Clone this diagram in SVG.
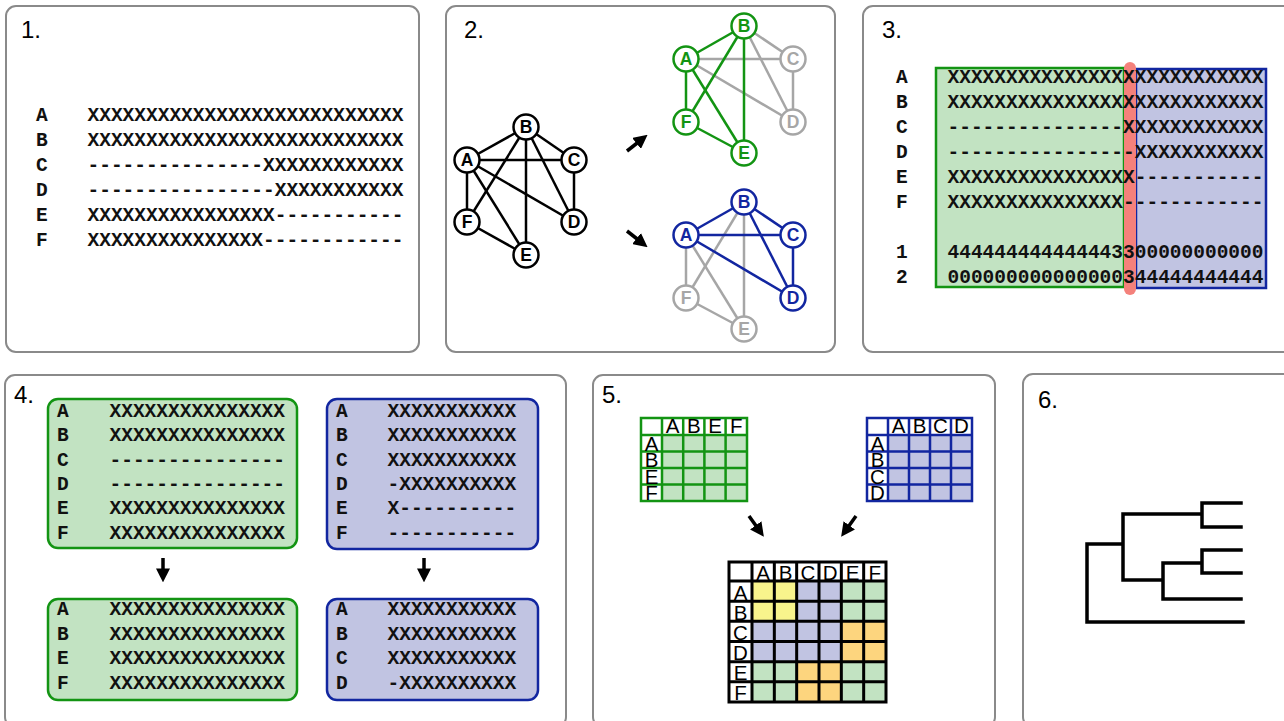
<svg xmlns="http://www.w3.org/2000/svg" width="1284" height="721" viewBox="0 0 1284 721">
<style>
.panel{fill:#fff;stroke:#8a8a8a;stroke-width:2}
.title{font-family:"Liberation Sans",Arial,sans-serif;font-size:24px;fill:#000}
.mono{font-family:"Liberation Mono","Courier New",monospace;font-weight:bold;font-size:19.5px;fill:#111;white-space:pre}
.node circle{fill:#fff;stroke-width:2.5}
.node text{font-family:"Liberation Sans",Arial,sans-serif;font-size:17.5px;font-weight:bold;text-anchor:middle}
.k circle{stroke:#000}.k text{fill:#000}
.g circle{stroke:#139413}.g text{fill:#139413}
.b circle{stroke:#1226a0}.b text{fill:#1226a0}
.y circle{stroke:#a6a6a6}.y text{fill:#a6a6a6}
.ek{stroke:#000;stroke-width:2.5;fill:none}
.eg{stroke:#139413;stroke-width:2.5;fill:none}
.eb{stroke:#1226a0;stroke-width:2.5;fill:none}
.ey{stroke:#a6a6a6;stroke-width:2.5;fill:none}
.arrow{stroke:#000;stroke-width:3.5;fill:none;marker-end:url(#ah)}
.gfill{fill:#c2e3c2}.bfill{fill:#c1c4e2}.yfill{fill:#f8f48c}.ofill{fill:#fdd57e}
.gbox{fill:#c2e3c2;stroke:#139413;stroke-width:2.5}
.bbox{fill:#c1c4e2;stroke:#1226a0;stroke-width:2.5}
.mx{font-family:"Liberation Sans",Arial,sans-serif;font-size:20.5px;fill:#000;text-anchor:middle}
.tree{stroke:#000;stroke-width:3.5;fill:none;stroke-linecap:square}
</style>
<defs>
<marker id="ah" viewBox="0 0 10 10" refX="4" refY="5" markerWidth="4" markerHeight="4" orient="auto">
<path d="M0,0 L10,5 L0,10 z" fill="#000"/>
</marker>
</defs>

<!-- Panel 1 -->
<g id="panel1">
<rect class="panel" x="6" y="6" width="413" height="346" rx="10"/>
<text class="title" x="21" y="38">1.</text>
<text class="mono" x="36" y="121">A</text><text class="mono" x="87.5" y="121">XXXXXXXXXXXXXXXXXXXXXXXXXXX</text>
<text class="mono" x="36" y="146">B</text><text class="mono" x="87.5" y="146">XXXXXXXXXXXXXXXXXXXXXXXXXXX</text>
<text class="mono" x="36" y="171">C</text><text class="mono" x="87.5" y="171">---------------XXXXXXXXXXXX</text>
<text class="mono" x="36" y="196">D</text><text class="mono" x="87.5" y="196">----------------XXXXXXXXXXX</text>
<text class="mono" x="36" y="221">E</text><text class="mono" x="87.5" y="221">XXXXXXXXXXXXXXXX-----------</text>
<text class="mono" x="36" y="246">F</text><text class="mono" x="87.5" y="246">XXXXXXXXXXXXXXX------------</text>
</g>

<!-- Panel 2 -->
<g id="panel2">
<rect class="panel" x="446" y="6" width="389" height="346" rx="10"/>
<text class="title" x="464" y="38">2.</text>
<g id="connectors">
<g id="edges-black">
<line class="ek" x1="467" y1="160" x2="526" y2="127"/>
<line class="ek" x1="467" y1="160" x2="574" y2="160"/>
<line class="ek" x1="467" y1="160" x2="467" y2="222"/>
<line class="ek" x1="467" y1="160" x2="526" y2="255"/>
<line class="ek" x1="467" y1="160" x2="574" y2="222"/>
<line class="ek" x1="526" y1="127" x2="574" y2="160"/>
<line class="ek" x1="526" y1="127" x2="467" y2="222"/>
<line class="ek" x1="526" y1="127" x2="526" y2="255"/>
<line class="ek" x1="526" y1="127" x2="574" y2="222"/>
<line class="ek" x1="574" y1="160" x2="574" y2="222"/>
<line class="ek" x1="467" y1="222" x2="526" y2="255"/>
</g>
<g id="edges-green">
<line class="ey" x1="686" y1="59" x2="793" y2="59"/>
<line class="ey" x1="686" y1="59" x2="793" y2="122"/>
<line class="ey" x1="744" y1="26" x2="793" y2="59"/>
<line class="ey" x1="744" y1="26" x2="793" y2="122"/>
<line class="ey" x1="793" y1="59" x2="793" y2="122"/>
<line class="eg" x1="686" y1="59" x2="744" y2="26"/>
<line class="eg" x1="686" y1="59" x2="686" y2="122"/>
<line class="eg" x1="686" y1="59" x2="744" y2="153"/>
<line class="eg" x1="744" y1="26" x2="686" y2="122"/>
<line class="eg" x1="744" y1="26" x2="744" y2="153"/>
<line class="eg" x1="686" y1="122" x2="744" y2="153"/>
</g>
<g id="edges-blue">
<line class="ey" x1="686" y1="235" x2="686" y2="298"/>
<line class="ey" x1="686" y1="235" x2="744" y2="329"/>
<line class="ey" x1="744" y1="202" x2="686" y2="298"/>
<line class="ey" x1="744" y1="202" x2="744" y2="329"/>
<line class="ey" x1="686" y1="298" x2="744" y2="329"/>
<line class="eb" x1="686" y1="235" x2="744" y2="202"/>
<line class="eb" x1="686" y1="235" x2="793" y2="235"/>
<line class="eb" x1="686" y1="235" x2="793" y2="298"/>
<line class="eb" x1="744" y1="202" x2="793" y2="235"/>
<line class="eb" x1="744" y1="202" x2="793" y2="298"/>
<line class="eb" x1="793" y1="235" x2="793" y2="298"/>
</g>
<line class="arrow" x1="627" y1="151" x2="641" y2="140"/>
<line class="arrow" x1="627" y1="231" x2="641" y2="242"/>
</g>
<g id="k-A" class="node k"><circle cx="467" cy="160" r="12.5"/><text x="467" y="166.3">A</text></g>
<g id="k-B" class="node k"><circle cx="526" cy="127" r="12.5"/><text x="526" y="133.3">B</text></g>
<g id="k-C" class="node k"><circle cx="574" cy="160" r="12.5"/><text x="574" y="166.3">C</text></g>
<g id="k-D" class="node k"><circle cx="574" cy="222" r="12.5"/><text x="574" y="228.3">D</text></g>
<g id="k-E" class="node k"><circle cx="526" cy="255" r="12.5"/><text x="526" y="261.3">E</text></g>
<g id="k-F" class="node k"><circle cx="467" cy="222" r="12.5"/><text x="467" y="228.3">F</text></g>

<g id="g-A" class="node g"><circle cx="686" cy="59" r="12.5"/><text x="686" y="65.3">A</text></g>
<g id="g-B" class="node g"><circle cx="744" cy="26" r="12.5"/><text x="744" y="32.3">B</text></g>
<g id="g-C" class="node y"><circle cx="793" cy="59" r="12.5"/><text x="793" y="65.3">C</text></g>
<g id="g-D" class="node y"><circle cx="793" cy="122" r="12.5"/><text x="793" y="128.3">D</text></g>
<g id="g-E" class="node g"><circle cx="744" cy="153" r="12.5"/><text x="744" y="159.3">E</text></g>
<g id="g-F" class="node g"><circle cx="686" cy="122" r="12.5"/><text x="686" y="128.3">F</text></g>

<g id="b-A" class="node b"><circle cx="686" cy="235" r="12.5"/><text x="686" y="241.3">A</text></g>
<g id="b-B" class="node b"><circle cx="744" cy="202" r="12.5"/><text x="744" y="208.3">B</text></g>
<g id="b-C" class="node b"><circle cx="793" cy="235" r="12.5"/><text x="793" y="241.3">C</text></g>
<g id="b-D" class="node b"><circle cx="793" cy="298" r="12.5"/><text x="793" y="304.3">D</text></g>
<g id="b-E" class="node y"><circle cx="744" cy="329" r="12.5"/><text x="744" y="335.3">E</text></g>
<g id="b-F" class="node y"><circle cx="686" cy="298" r="12.5"/><text x="686" y="304.3">F</text></g>
</g>

<!-- Panel 3 -->
<g id="panel3">
<rect class="panel" x="863" y="6" width="440" height="346" rx="10"/>
<text class="title" x="882" y="38">3.</text>
<rect x="936" y="68" width="188" height="219" class="gbox"/>
<rect x="1136" y="69" width="130" height="219" class="bbox"/>
<line x1="1130" y1="68" x2="1130" y2="289" stroke="#f4817b" stroke-width="12" stroke-linecap="round"/>
<text class="mono" x="896" y="83">A</text><text class="mono" x="947.5" y="83">XXXXXXXXXXXXXXXXXXXXXXXXXXX</text>
<text class="mono" x="896" y="108">B</text><text class="mono" x="947.5" y="108">XXXXXXXXXXXXXXXXXXXXXXXXXXX</text>
<text class="mono" x="896" y="133">C</text><text class="mono" x="947.5" y="133">---------------XXXXXXXXXXXX</text>
<text class="mono" x="896" y="158">D</text><text class="mono" x="947.5" y="158">----------------XXXXXXXXXXX</text>
<text class="mono" x="896" y="183">E</text><text class="mono" x="947.5" y="183">XXXXXXXXXXXXXXXX-----------</text>
<text class="mono" x="896" y="208">F</text><text class="mono" x="947.5" y="208">XXXXXXXXXXXXXXX------------</text>
<text class="mono" x="896" y="258">1</text><text class="mono" x="947.5" y="258">444444444444443300000000000</text>
<text class="mono" x="896" y="283">2</text><text class="mono" x="947.5" y="283">000000000000000344444444444</text>
</g>

<!-- Panel 4 -->
<g id="panel4">
<rect class="panel" x="5" y="375" width="561" height="352" rx="10"/>
<text class="title" x="14" y="403">4.</text>
<g id="green-before">
<rect class="gbox" x="48" y="399" width="249" height="149" rx="10"/>
<text class="mono" x="57" y="417">A</text><text class="mono" x="109.5" y="417">XXXXXXXXXXXXXXX</text>
<text class="mono" x="57" y="441">B</text><text class="mono" x="109.5" y="441">XXXXXXXXXXXXXXX</text>
<text class="mono" x="57" y="466">C</text><text class="mono" x="109.5" y="466">---------------</text>
<text class="mono" x="57" y="490">D</text><text class="mono" x="109.5" y="490">---------------</text>
<text class="mono" x="57" y="514">E</text><text class="mono" x="109.5" y="514">XXXXXXXXXXXXXXX</text>
<text class="mono" x="57" y="539">F</text><text class="mono" x="109.5" y="539">XXXXXXXXXXXXXXX</text>
</g>
<g id="green-after">
<rect class="gbox" x="48" y="599" width="249" height="101" rx="10"/>
<text class="mono" x="57" y="615">A</text><text class="mono" x="109.5" y="615">XXXXXXXXXXXXXXX</text>
<text class="mono" x="57" y="640">B</text><text class="mono" x="109.5" y="640">XXXXXXXXXXXXXXX</text>
<text class="mono" x="57" y="664">E</text><text class="mono" x="109.5" y="664">XXXXXXXXXXXXXXX</text>
<text class="mono" x="57" y="689">F</text><text class="mono" x="109.5" y="689">XXXXXXXXXXXXXXX</text>
</g>
<g id="blue-before">
<rect class="bbox" x="327" y="399" width="211" height="150" rx="10"/>
<text class="mono" x="336" y="417">A</text><text class="mono" x="387.5" y="417">XXXXXXXXXXX</text>
<text class="mono" x="336" y="441">B</text><text class="mono" x="387.5" y="441">XXXXXXXXXXX</text>
<text class="mono" x="336" y="466">C</text><text class="mono" x="387.5" y="466">XXXXXXXXXXX</text>
<text class="mono" x="336" y="490">D</text><text class="mono" x="387.5" y="490">-XXXXXXXXXX</text>
<text class="mono" x="336" y="514">E</text><text class="mono" x="387.5" y="514">X----------</text>
<text class="mono" x="336" y="539">F</text><text class="mono" x="387.5" y="539">-----------</text>
</g>
<g id="blue-after">
<rect class="bbox" x="327" y="599" width="211" height="101" rx="10"/>
<text class="mono" x="336" y="615">A</text><text class="mono" x="387.5" y="615">XXXXXXXXXXX</text>
<text class="mono" x="336" y="640">B</text><text class="mono" x="387.5" y="640">XXXXXXXXXXX</text>
<text class="mono" x="336" y="664">C</text><text class="mono" x="387.5" y="664">XXXXXXXXXXX</text>
<text class="mono" x="336" y="689">D</text><text class="mono" x="387.5" y="689">-XXXXXXXXXX</text>
</g>
<g id="connectors4">
<line class="arrow" x1="163" y1="558" x2="163" y2="574"/>
<line class="arrow" x1="424" y1="558" x2="424" y2="574"/>
</g>
</g>

<!-- Panel 5 -->
<g id="panel5">
<rect class="panel" x="593" y="375" width="402" height="352" rx="10"/>
<text class="title" x="602" y="403">5.</text>
<g id="matrix-green">
<rect class="gfill" x="662" y="435" width="85" height="66"/>
<path d="M641,418 H747 V501 H641 Z M641,435 H747 M641,451.5 H747 M641,468 H747 M641,484.5 H747 M662,418 V501 M683.2,418 V501 M704.4,418 V501 M725.6,418 V501" fill="none" stroke="#139413" stroke-width="2.5"/>
<text class="mx" x="672.6" y="433">A</text><text class="mx" x="693.8" y="433">B</text><text class="mx" x="715" y="433">E</text><text class="mx" x="736.2" y="433">F</text>
<text class="mx" x="651.5" y="450.5">A</text><text class="mx" x="651.5" y="467">B</text><text class="mx" x="651.5" y="483.5">E</text><text class="mx" x="651.5" y="500">F</text>
</g>
<g id="matrix-blue">
<rect class="bfill" x="888" y="435" width="84" height="66"/>
<path d="M867,418 H972 V501 H867 Z M867,435 H972 M867,451.5 H972 M867,468 H972 M867,484.5 H972 M888,418 V501 M909,418 V501 M930,418 V501 M951,418 V501" fill="none" stroke="#1226a0" stroke-width="2.5"/>
<text class="mx" x="898.5" y="433">A</text><text class="mx" x="919.5" y="433">B</text><text class="mx" x="940.5" y="433">C</text><text class="mx" x="961.5" y="433">D</text>
<text class="mx" x="877.5" y="450.5">A</text><text class="mx" x="877.5" y="467">B</text><text class="mx" x="877.5" y="483.5">C</text><text class="mx" x="877.5" y="500">D</text>
</g>
<g id="connectors5">
<line class="arrow" x1="749" y1="516" x2="759" y2="530"/>
<line class="arrow" x1="856" y1="516" x2="846" y2="530"/>
</g>
<g id="matrix-merged">
<rect class="yfill" x="752" y="581" width="44.67" height="40.33"/>
<rect class="bfill" x="796.67" y="581" width="44.67" height="40.33"/>
<rect class="gfill" x="841.33" y="581" width="44.67" height="40.33"/>
<rect class="bfill" x="752" y="621.33" width="89.33" height="40.33"/>
<rect class="ofill" x="841.33" y="621.33" width="44.67" height="40.33"/>
<rect class="gfill" x="752" y="661.67" width="44.67" height="40.33"/>
<rect class="ofill" x="796.67" y="661.67" width="44.67" height="40.33"/>
<rect class="gfill" x="841.33" y="661.67" width="44.67" height="40.33"/>
<path d="M729,562 H886 V702 H729 Z M729,581 H886 M729,601.17 H886 M729,621.33 H886 M729,641.5 H886 M729,661.67 H886 M729,681.83 H886 M752,562 V702 M774.33,562 V702 M796.67,562 V702 M819,562 V702 M841.33,562 V702 M863.67,562 V702" fill="none" stroke="#000" stroke-width="3"/>
<text class="mx" x="763.2" y="579.5">A</text><text class="mx" x="785.5" y="579.5">B</text><text class="mx" x="807.8" y="579.5">C</text><text class="mx" x="830.2" y="579.5">D</text><text class="mx" x="852.5" y="579.5">E</text><text class="mx" x="874.8" y="579.5">F</text>
<text class="mx" x="740.5" y="599.5">A</text><text class="mx" x="740.5" y="619.7">B</text><text class="mx" x="740.5" y="639.8">C</text><text class="mx" x="740.5" y="660">D</text><text class="mx" x="740.5" y="680.2">E</text><text class="mx" x="740.5" y="700.3">F</text>
</g>
</g>

<!-- Panel 6 -->
<g id="panel6">
<rect class="panel" x="1023" y="374" width="280" height="353" rx="10"/>
<text class="title" x="1038" y="408">6.</text>
<path class="tree" d="M1087,544 V622 H1243 M1087,544 H1123 M1123,514 V580 M1123,514 H1202 M1202,503 V527 M1202,503 H1241 M1202,527 H1241 M1123,580 H1163 M1163,563 V599 M1163,563 H1202 M1202,550 V573 M1202,550 H1241 M1202,573 H1241 M1163,599 H1241"/>
</g>
</svg>
